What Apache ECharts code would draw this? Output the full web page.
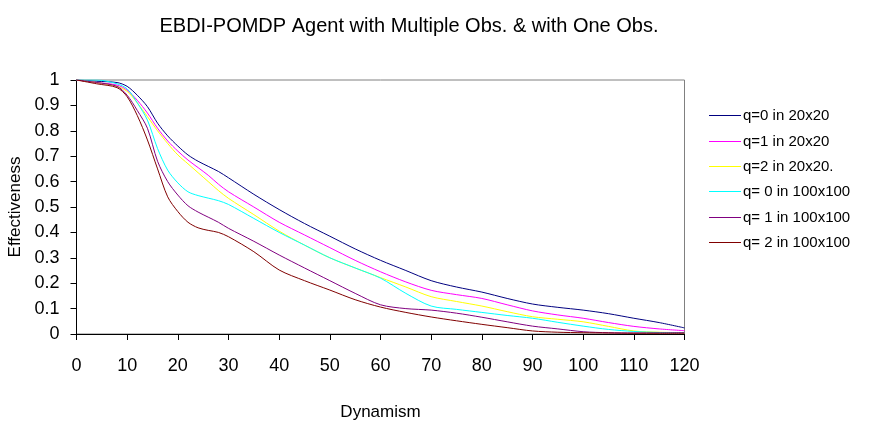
<!DOCTYPE html>
<html><head><meta charset="utf-8">
<script src="https://cdn.jsdelivr.net/npm/echarts@6/dist/echarts.min.js"></script>
<style>html,body{margin:0;padding:0;background:#fff}#c{width:874px;height:429px}</style>
</head><body><div id="c"></div>
<script>
const xs = [0,4,8,10,12,14,16,18,20,22,24,26,28,30,35,40,45,50,55,60,65,70,75,80,85,90,95,100,105,110,115,120];
const names = ["q=0 in 20x20","q=1 in 20x20","q=2 in 20x20.","q= 0 in 100x100","q= 1 in 100x100","q= 2 in 100x100"];
const q0_20 = [1,0.995,0.99,0.975,0.94,0.895,0.83,0.78,0.74,0.705,0.68,0.66,0.64,0.615,0.55,0.49,0.435,0.385,0.335,0.29,0.25,0.21,0.185,0.165,0.14,0.118,0.105,0.094,0.08,0.062,0.045,0.024];
const q1_20 = [1,0.99,0.98,0.96,0.92,0.87,0.81,0.76,0.72,0.685,0.655,0.625,0.59,0.56,0.5,0.44,0.39,0.34,0.29,0.245,0.205,0.172,0.155,0.14,0.115,0.091,0.075,0.062,0.045,0.03,0.02,0.013];
const q2_20 = [1,0.99,0.975,0.955,0.91,0.856,0.8,0.75,0.705,0.67,0.635,0.6,0.565,0.534,0.47,0.405,0.35,0.3,0.26,0.222,0.185,0.147,0.128,0.11,0.088,0.068,0.058,0.048,0.03,0.012,0.007,0.005];
const q0_100 = [1,1,0.985,0.965,0.91,0.842,0.73,0.645,0.595,0.56,0.545,0.535,0.525,0.51,0.455,0.4,0.35,0.3,0.26,0.22,0.16,0.11,0.097,0.085,0.073,0.062,0.046,0.031,0.018,0.01,0.006,0.005];
const q1_100 = [1,0.99,0.975,0.94,0.88,0.81,0.68,0.6,0.547,0.505,0.48,0.46,0.44,0.416,0.365,0.311,0.26,0.21,0.16,0.115,0.1,0.094,0.082,0.066,0.048,0.031,0.02,0.009,0.005,0.004,0.004,0.005];
const q2_100 = [1,0.985,0.97,0.934,0.86,0.764,0.65,0.54,0.482,0.44,0.418,0.408,0.4,0.383,0.324,0.252,0.21,0.173,0.135,0.106,0.085,0.067,0.052,0.038,0.025,0.012,0.007,0.005,0.004,0.003,0.003,0.003];
const colors = ["#000080","#FF00FF","#FFFF00","#00FFFF","#800080","#800000"];
const allSeries = [q0_20,q1_20,q2_20,q0_100,q1_100,q2_100];
const legendRows = [116,142,167,192,218,243];

const font = "'Liberation Sans', Arial, sans-serif";
const chart = echarts.init(document.getElementById('c'));
chart.setOption({
  animation: false,
  backgroundColor: '#fff',
  title: {text: 'EBDI-POMDP Agent with Multiple Obs. & with One Obs.', left: 404, textAlign: 'center', top: 11,
    textStyle: {fontFamily: font, fontSize: 20, fontWeight: 'normal', color: '#000'}},
  legend: names.map((n, i) => ({
    orient: 'vertical', left: 709, top: legendRows[i] - 9, padding: 0,
    icon: 'rect', itemWidth: 32, itemHeight: 1, itemGap: 0,
    itemStyle: {color: colors[i], borderWidth: 0},
    textStyle: {fontFamily: font, fontSize: 15, lineHeight: 17, color: '#000', padding: [0,0,0,-3]},
    data: [n]
  })),
  grid: {left: 76.5, right: 189.5, top: 80, bottom: 95, containLabel: false, outerBoundsMode: 'none',
    show: true, borderColor: '#808080', borderWidth: 1},
  xAxis: {type: 'value', min: 0, max: 120, interval: 10, name: 'Dynamism', nameLocation: 'middle', nameGap: 70,
    nameTextStyle: {fontFamily: font, fontSize: 17, color: '#000'},
    axisLine: {lineStyle: {color: '#000', width: 1}}, axisTick: {inside: false, length: 6, lineStyle: {color: '#000'}},
    axisLabel: {fontFamily: font, fontSize: 18, color: '#000', margin: 23}, splitLine: {show: false}},
  yAxis: {type: 'value', min: 0, max: 1, interval: 0.1, name: 'Effectiveness', nameLocation: 'middle', nameGap: 53, nameRotate: 90,
    nameTextStyle: {fontFamily: font, fontSize: 17, color: '#000'},
    axisLine: {show: true, lineStyle: {color: '#000', width: 1}}, axisTick: {show: true, inside: false, length: 6, lineStyle: {color: '#000'}},
    axisLabel: {fontFamily: font, fontSize: 18, color: '#000', margin: 17, formatter: v => String(Math.round(v*10)/10)}, splitLine: {show: false}},
  series: allSeries.map((arr, i) => ({
    name: names[i], type: 'line', symbol: 'none', smooth: 0.3,
    data: xs.map((x, j) => [x, arr[j]]),
    lineStyle: {color: colors[i], width: 1}, itemStyle: {color: colors[i]}
  }))
});
</script></body></html>
